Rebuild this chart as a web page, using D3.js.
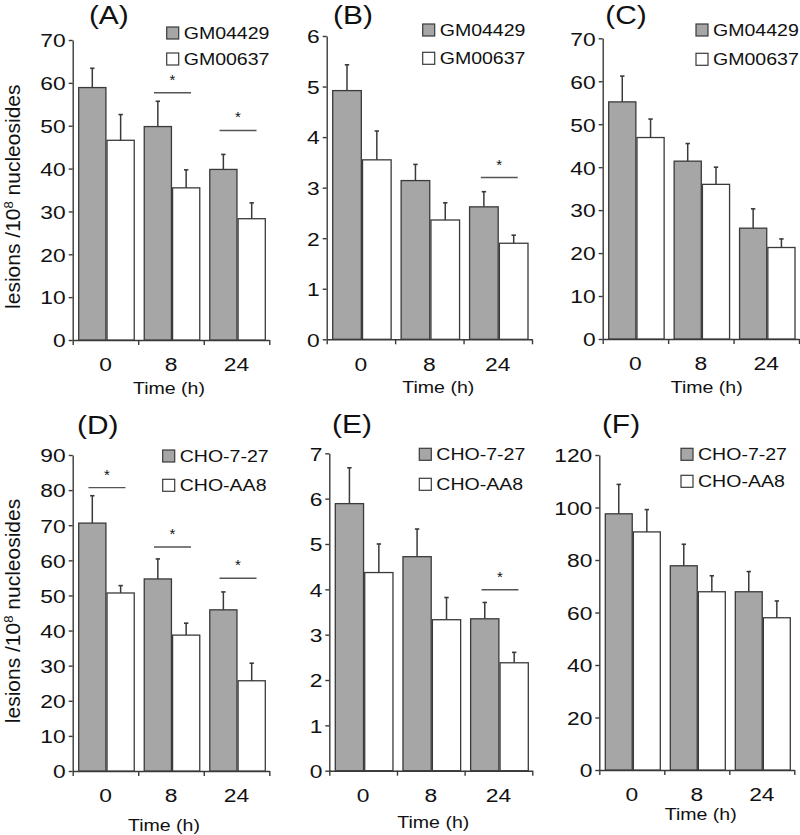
<!DOCTYPE html>
<html>
<head>
<meta charset="utf-8">
<script src="https://cdn.jsdelivr.net/npm/d3@7"></script>
<style>
  body { margin: 0; background: #fff; }
  svg { display: block; }
  text { font-family: "Liberation Sans", Arial, sans-serif; fill: #111; }
</style>
</head>
<body>
<div id="chart"></div>
<script>
const times = ["0", "8", "24"];
const gmLines = ["GM04429", "GM00637"];
const choLines = ["CHO-7-27", "CHO-AA8"];

// (A)
const aGray = [58.9, 49.8, 39.8];
const aGrayErr = [4.5, 5.9, 3.5];
const aWhite = [46.6, 35.5, 28.3];
const aWhiteErr = [6.0, 4.2, 3.7];
const aSig = [{ t: "8", y: 57.7 }, { t: "24", y: 48.9 }];
const aTicks = [0, 10, 20, 30, 40, 50, 60, 70];

// (B)
const bGray = [4.92, 3.14, 2.62];
const bGrayErr = [0.51, 0.32, 0.30];
const bWhite = [3.55, 2.36, 1.90];
const bWhiteErr = [0.57, 0.34, 0.16];
const bSig = [{ t: "24", y: 3.20 }];
const bTicks = [0, 1, 2, 3, 4, 5, 6];

// (C)
const cGray = [55.2, 41.4, 25.8];
const cGrayErr = [6.0, 4.1, 4.5];
const cWhite = [46.9, 36.0, 21.3];
const cWhiteErr = [4.3, 4.0, 2.0];
const cSig = [];
const cTicks = [0, 10, 20, 30, 40, 50, 60, 70];

// (D)
const dGray = [70.6, 54.7, 45.9];
const dGrayErr = [7.8, 5.7, 5.1];
const dWhite = [50.7, 38.7, 25.7];
const dWhiteErr = [2.1, 3.4, 5.0];
const dSig = [{ t: "0", y: 80.7 }, { t: "8", y: 63.8 }, { t: "24", y: 54.9 }];
const dTicks = [0, 10, 20, 30, 40, 50, 60, 70, 80, 90];

// (E)
const eGray = [5.89, 4.72, 3.35];
const eGrayErr = [0.79, 0.61, 0.36];
const eWhite = [4.37, 3.33, 2.38];
const eWhiteErr = [0.63, 0.49, 0.23];
const eSig = [{ t: "24", y: 3.99 }];
const eTicks = [0, 1, 2, 3, 4, 5, 6, 7];

// (F)
const fGray = [97.6, 77.8, 67.9];
const fGrayErr = [11.2, 8.2, 7.7];
const fWhite = [90.7, 67.9, 58.0];
const fWhiteErr = [8.5, 6.1, 6.4];
const fSig = [];
const fTicks = [0, 20, 40, 60, 80, 100, 120];

const width = 800, height = 835;
const SX = 1.15;   // the original lettering is a bit wide
const TSX = 1.2;   // tick numbers even more so

const svg = d3.select("#chart").append("svg")
  .attr("width", width)
  .attr("height", height);

const panels = [
  { name: "(A)", lines: gmLines, gray: aGray, grayErr: aGrayErr, white: aWhite, whiteErr: aWhiteErr, sig: aSig, ticks: aTicks,
    x0: 72.7, x1: 269.3, top: 40, bot: 340, letX: 108.8, letY: 24, legX: 166.7, legY: 27, legGap: 26, timeX: 169, timeY: 394, yTitle: 196.7 },
  { name: "(B)", lines: gmLines, gray: bGray, grayErr: bGrayErr, white: bWhite, whiteErr: bWhiteErr, sig: bSig, ticks: bTicks,
    x0: 326.7, x1: 532, top: 36, bot: 339.3, letX: 353, letY: 24, legX: 422.7, legY: 24, legGap: 28.3, timeX: 438.3, timeY: 392.7 },
  { name: "(C)", lines: gmLines, gray: cGray, grayErr: cGrayErr, white: cWhite, whiteErr: cWhiteErr, sig: cSig, ticks: cTicks,
    x0: 602.7, x1: 799, top: 38.3, bot: 339, letX: 626, letY: 24, legX: 696, legY: 24, legGap: 29.3, timeX: 706.7, timeY: 392.7 },
  { name: "(D)", lines: choLines, gray: dGray, grayErr: dGrayErr, white: dWhite, whiteErr: dWhiteErr, sig: dSig, ticks: dTicks,
    x0: 72.7, x1: 269.3, top: 455, bot: 771, letX: 97.8, letY: 434, legX: 162.7, legY: 450, legGap: 29.3, timeX: 164, timeY: 831, yTitle: 611 },
  { name: "(E)", lines: choLines, gray: eGray, grayErr: eGrayErr, white: eWhite, whiteErr: eWhiteErr, sig: eSig, ticks: eTicks,
    x0: 329.3, x1: 532.3, top: 453.3, bot: 770.7, letX: 352, letY: 433, legX: 419.3, legY: 448.3, legGap: 30, timeX: 433.3, timeY: 827.7 },
  { name: "(F)", lines: choLines, gray: fGray, grayErr: fGrayErr, white: fWhite, whiteErr: fWhiteErr, sig: fSig, ticks: fTicks,
    x0: 599.3, x1: 794.3, top: 455, bot: 770, letX: 621, letY: 433, legX: 681, legY: 448.3, legGap: 27, timeX: 700.7, timeY: 820 }
];

const ink = "#3a3a3a";
const grayFill = "#a6a6a6";

function wideText(g, x, y, s, size, anchor, sx) {
  return g.append("text")
    .attr("transform", `translate(${x},${y}) scale(${sx},1)`)
    .attr("font-size", size)
    .attr("text-anchor", anchor)
    .text(s);
}

panels.forEach(p => {
  const g = svg.append("g");

  const y = d3.scaleLinear()
    .domain([0, d3.max(p.ticks)])
    .range([p.bot, p.top]);

  const x = d3.scaleBand()
    .domain(times)
    .range([p.x0, p.x1])
    .padding(0);
  const bw = x.bandwidth();

  const sub = d3.scaleBand()
    .domain([0, 1])
    .range([6, bw - 4])
    .paddingInner(0.04);

  // y axis
  const yAxis = g.append("g")
    .attr("transform", `translate(${p.x0},0)`)
    .call(d3.axisLeft(y).tickValues(p.ticks).tickFormat(d3.format("d")).tickSize(4).tickSizeOuter(0));
  yAxis.select(".domain").attr("stroke", ink).attr("stroke-width", 1.4);
  yAxis.selectAll(".tick line").attr("stroke", ink).attr("stroke-width", 1.4);
  yAxis.selectAll(".tick text")
    .attr("font-size", 19)
    .attr("x", -7 / TSX)
    .attr("dy", "0.36em")
    .attr("fill", "#111")
    .attr("transform", `scale(${TSX},1)`);

  // x axis: ticks at the group boundaries
  const bounds = d3.scaleLinear().domain([0, times.length]).range([p.x0, p.x1]);
  const xAxis = g.append("g")
    .attr("transform", `translate(0,${p.bot})`)
    .call(d3.axisBottom(bounds).ticks(times.length).tickFormat("").tickSize(5).tickSizeOuter(0));
  xAxis.select(".domain").attr("stroke", ink).attr("stroke-width", 1.4);
  xAxis.selectAll(".tick line").attr("stroke", ink).attr("stroke-width", 1.4);

  const xLabels = g.append("g")
    .attr("transform", `translate(0,${p.bot})`)
    .call(d3.axisBottom(x).tickSize(0).tickPadding(18));
  xLabels.select(".domain").remove();
  xLabels.selectAll(".tick text")
    .attr("font-size", 19)
    .attr("fill", "#111")
    .attr("transform", `scale(${TSX},1)`);

  // bars
  const rows = times.map((t, i) => [
    { t: t, k: 0, v: p.gray[i], e: p.grayErr[i] },
    { t: t, k: 1, v: p.white[i], e: p.whiteErr[i] }
  ]).flat();

  g.selectAll(".bar")
    .data(rows)
    .enter()
    .append("rect")
    .attr("x", d => x(d.t) + sub(d.k))
    .attr("y", d => y(d.v))
    .attr("width", sub.bandwidth())
    .attr("height", d => p.bot - y(d.v))
    .attr("fill", d => d.k === 0 ? grayFill : "#fff")
    .attr("stroke", ink)
    .attr("stroke-width", 1.3);

  // error bars (upper only)
  const cx = d => x(d.t) + sub(d.k) + sub.bandwidth() / 2;
  g.selectAll(".err")
    .data(rows)
    .enter()
    .append("line")
    .attr("x1", cx).attr("x2", cx)
    .attr("y1", d => y(d.v))
    .attr("y2", d => y(d.v + d.e))
    .attr("stroke", ink)
    .attr("stroke-width", 1.5);
  g.selectAll(".cap")
    .data(rows)
    .enter()
    .append("line")
    .attr("x1", d => cx(d) - 2.2).attr("x2", d => cx(d) + 2.2)
    .attr("y1", d => y(d.v + d.e))
    .attr("y2", d => y(d.v + d.e))
    .attr("stroke", ink)
    .attr("stroke-width", 1.6);

  // significance marks
  p.sig.forEach(s => {
    const mid = x(s.t) + bw / 2 + 1.5;
    g.append("line")
      .attr("x1", mid - 18.5).attr("x2", mid + 18.5)
      .attr("y1", y(s.y)).attr("y2", y(s.y))
      .attr("stroke", "#555")
      .attr("stroke-width", 1.4);
    g.append("text")
      .attr("x", mid)
      .attr("y", y(s.y) - 8)
      .attr("text-anchor", "middle")
      .attr("font-size", 15)
      .text("*");
  });

  // legend
  p.lines.forEach((name, i) => {
    const ly = p.legY + i * p.legGap;
    g.append("rect")
      .attr("x", p.legX).attr("y", ly)
      .attr("width", 12).attr("height", 12)
      .attr("fill", i === 0 ? grayFill : "#fff")
      .attr("stroke", ink)
      .attr("stroke-width", 1.2);
    wideText(g, p.legX + 17, ly + 12, name, 17, "start", SX);
  });

  // panel letter
  wideText(g, p.letX, p.letY, p.name, 26, "middle", 1.15);

  // x title
  wideText(g, p.timeX, p.timeY, "Time (h)", 17, "middle", SX);

  // y title (left column only)
  if (p.yTitle) {
    const t = g.append("text")
      .attr("transform", `translate(20,${p.yTitle}) rotate(-90)`)
      .attr("font-size", 21)
      .attr("text-anchor", "middle");
    t.append("tspan").text("lesions /10");
    t.append("tspan").attr("font-size", 13).attr("dy", -7).text("8");
    t.append("tspan").attr("dy", 7).text(" nucleosides");
  }
});
</script>
</body>
</html>
